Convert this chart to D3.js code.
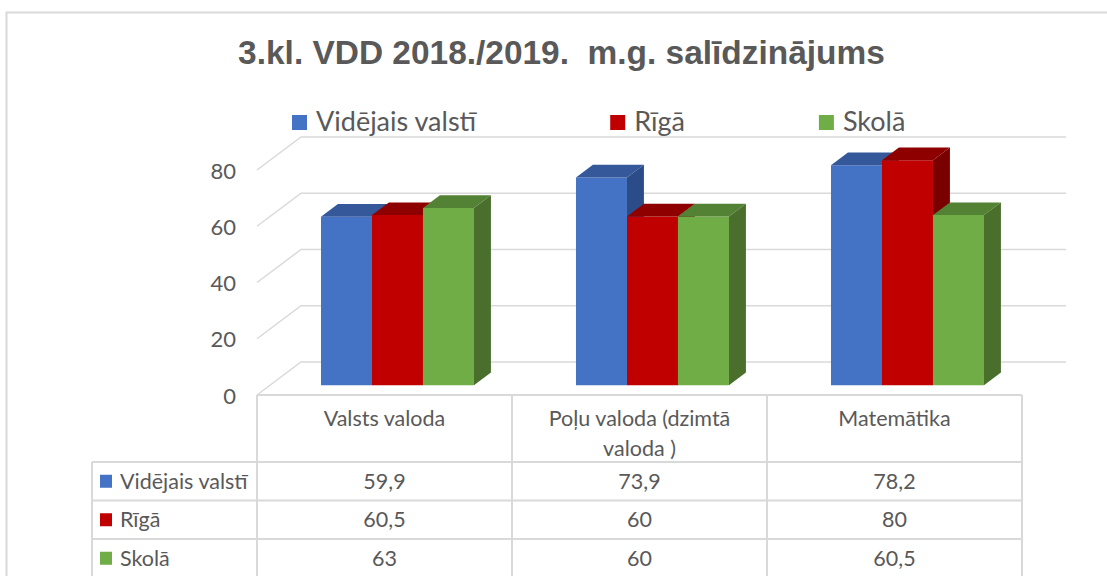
<!DOCTYPE html>
<html lang="lv">
<head>
<meta charset="utf-8">
<script src="https://cdn.jsdelivr.net/npm/d3@7"></script>
<style>
  body { margin: 0; background: #fff; }
  text { fill: #595959; font-family: Lato, "Open Sans", sans-serif; }
</style>
</head>
<body>
<script>
    // Data
    const categories = ["Valsts valoda", "Poļu valoda (dzimtā valoda )", "Matemātika"];
    const seriesNames = ["Vidējais valstī", "Rīgā", "Skolā"];
    const videjais = [59.9, 73.9, 78.2];
    const riga = [60.5, 60, 80];
    const skola = [63, 60, 60.5];
    const yTicks = [0, 20, 40, 60, 80];
    const title = "3.kl. VDD 2018./2019.  m.g. salīdzinājums";

    const values = [videjais, riga, skola];

    // colours: front, top, side
    const colors = [
        {front: "#4472C4", top: "#34589A", side: "#2B4C88"},
        {front: "#C00000", top: "#8E0000", side: "#7A0000"},
        {front: "#70AD47", top: "#548235", side: "#4A6E2C"}
    ];

    const w = 1107, h = 576;
    const grid = "#D9D9D9";
    const tableFont = "21.5px";

    // floor: front edge and the depth vector of the 3D box
    const floor = {left: 257, right: 1022, dx: 44, dy: -33};
    const barT0 = 0.295, barT1 = 0.68;   // depth slot used by the bars

    const svg = d3.select("body").append("svg")
        .attr("width", w)
        .attr("height", h);

    // chart area border
    svg.append("rect")
        .attr("x", 6.5).attr("y", 12.5)
        .attr("width", 1300).attr("height", 700)
        .attr("fill", "#fff")
        .attr("stroke", grid)
        .attr("stroke-width", 2);

    const yScale = d3.scaleLinear().domain([0, 80]).range([395, 170]);
    const xScale = d3.scaleBand()
        .domain(categories)
        .range([floor.left, floor.right])
        .paddingInner(0.4)
        .paddingOuter(0.2);
    const xSeries = d3.scaleBand()
        .domain(seriesNames)
        .range([0, xScale.bandwidth()]);

    // title
    const t = svg.append("text")
        .attr("x", 561.5).attr("y", 64)
        .attr("text-anchor", "middle")
        .style("font-family", "'Liberation Sans', Arial, sans-serif")
        .style("font-weight", "bold")
        .style("font-size", "28px")
        .style("white-space", "pre")
        .text(title);
    const tw = t.node().getComputedTextLength();
    t.style("font-size", (28 * 647 / tw) + "px");

    // legend
    let lx = 292;
    seriesNames.forEach(function(name, i) {
        svg.append("rect")
            .attr("x", lx).attr("y", 115)
            .attr("width", 15).attr("height", 15)
            .attr("fill", colors[i].front);
        const txt = svg.append("text")
            .attr("x", lx + 24).attr("y", 131)
            .style("font-size", "27px")
            .text(name);
        lx += 24 + txt.node().getComputedTextLength() + 134;
    });

    // back wall gridlines + left wall diagonals
    svg.append("g").selectAll("path")
        .data(yTicks)
        .enter()
        .append("path")
        .attr("d", function(d) {
            const yf = yScale(d);
            return "M" + floor.left + "," + yf +
                   "L" + (floor.left + floor.dx) + "," + (yf + floor.dy) +
                   "L" + (floor.right + floor.dx) + "," + (yf + floor.dy);
        })
        .attr("fill", "none")
        .attr("stroke", grid)
        .attr("stroke-width", 1.5);

    // y axis labels
    svg.append("g").selectAll("text")
        .data(yTicks)
        .enter()
        .append("text")
        .attr("x", 236)
        .attr("y", function(d) { return yScale(d) + 1; })
        .attr("dy", "0.35em")
        .attr("text-anchor", "end")
        .style("font-size", "22px")
        .text(function(d) { return d; });

    // 3D bars, drawn left to right so the next bar covers the side face
    const ox = floor.dx * barT0, oy = floor.dy * barT0;
    const ddx = floor.dx * (barT1 - barT0), ddy = floor.dy * (barT1 - barT0);
    const bars = svg.append("g");
    categories.forEach(function(cat, ci) {
        seriesNames.forEach(function(s, si) {
            const v = values[si][ci];
            const xl = xScale(cat) + xSeries(s) + ox;
            const xr = xl + xSeries.bandwidth();
            const yt = yScale(v) + oy;
            const yb = yScale(0) + oy;
            const c = colors[si];
            bars.append("polygon")
                .attr("points", [[xl, yt], [xr, yt], [xr, yb], [xl, yb]].join(" "))
                .attr("fill", c.front);
            bars.append("polygon")
                .attr("points", [[xl, yt], [xr, yt], [xr + ddx, yt + ddy], [xl + ddx, yt + ddy]].join(" "))
                .attr("fill", c.top);
            bars.append("polygon")
                .attr("points", [[xr, yt], [xr + ddx, yt + ddy], [xr + ddx, yb + ddy], [xr, yb]].join(" "))
                .attr("fill", c.side);
        });
    });

    // data table
    const table = svg.append("g");
    const colScale = d3.scaleBand().domain(categories).range([floor.left, floor.right]);
    const headTop = 395, headBottom = 462, rowH = 38.5, labelLeft = 92;
    const rowsBottom = headBottom + rowH * seriesNames.length;

    // horizontal lines
    table.append("line")
        .attr("x1", floor.left).attr("x2", floor.right)
        .attr("y1", headTop).attr("y2", headTop);
    d3.range(seriesNames.length + 1).forEach(function(i) {
        table.append("line")
            .attr("x1", labelLeft).attr("x2", floor.right)
            .attr("y1", headBottom + i * rowH).attr("y2", headBottom + i * rowH);
    });
    // vertical lines
    table.append("line")
        .attr("x1", labelLeft).attr("x2", labelLeft)
        .attr("y1", headBottom).attr("y2", rowsBottom);
    categories.concat([null]).forEach(function(cat) {
        const xx = cat === null ? floor.right : colScale(cat);
        table.append("line")
            .attr("x1", xx).attr("x2", xx)
            .attr("y1", headTop).attr("y2", rowsBottom);
    });
    table.selectAll("line")
        .attr("stroke", grid)
        .attr("stroke-width", 2);

    // header text (wrapped to column width)
    categories.forEach(function(cat) {
        const cx = colScale(cat) + colScale.bandwidth() / 2;
        const el = table.append("text")
            .attr("text-anchor", "middle")
            .style("font-size", tableFont);
        const words = cat.split(" ");
        let lines = [], line = [];
        const probe = table.append("text").style("font-size", tableFont);
        words.forEach(function(word) {
            const test = line.concat([word]).join(" ");
            probe.text(test);
            if (probe.node().getComputedTextLength() > colScale.bandwidth() - 24 && line.length) {
                lines.push(line.join(" "));
                line = [word];
            } else {
                line.push(word);
            }
        });
        lines.push(line.join(" "));
        probe.remove();
        lines.forEach(function(l, i) {
            el.append("tspan")
                .attr("x", cx)
                .attr("y", 426 + i * 30)
                .text(l);
        });
    });

    // rows: legend key + series name + values
    seriesNames.forEach(function(name, si) {
        const yc = headBottom + rowH * si + rowH / 2;
        table.append("rect")
            .attr("x", 100).attr("y", yc - 6.5)
            .attr("width", 12).attr("height", 13)
            .attr("fill", colors[si].front);
        table.append("text")
            .attr("x", 120).attr("y", yc)
            .attr("dy", "0.35em")
            .style("font-size", tableFont)
            .text(name);
        categories.forEach(function(cat, ci) {
            table.append("text")
                .attr("x", colScale(cat) + colScale.bandwidth() / 2)
                .attr("y", yc)
                .attr("dy", "0.35em")
                .attr("text-anchor", "middle")
                .style("font-size", tableFont)
                .text(String(values[si][ci]).replace(".", ","));
        });
    });
</script>
</body>
</html>
